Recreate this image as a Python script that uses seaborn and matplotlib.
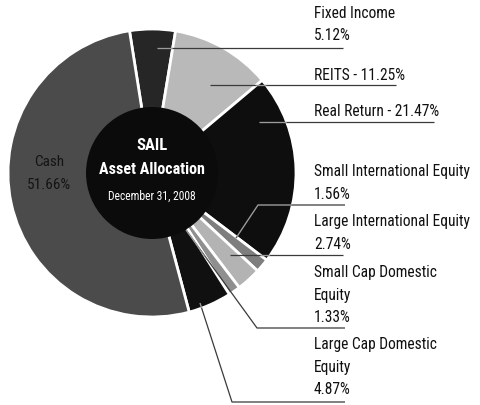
import matplotlib
matplotlib.use("Agg")
import matplotlib.pyplot as plt
from matplotlib import font_manager
import seaborn as sns

# Portfolio weights, clockwise from the top of the ring
categories = ["Fixed Income", "REITS", "Real Return", "Small International Equity",
              "Large International Equity", "Small Cap Domestic Equity",
              "Large Cap Domestic Equity", "Cash"]
weights = [5.12, 11.25, 21.47, 1.56, 2.74, 1.33, 4.87, 51.66]
shades = ["#262626", "#b9b9b9", "#0e0e0e", "#7e7e7e",
          "#b3b3b3", "#8f8f8f", "#101010", "#4b4b4b"]

# Callout wording (name lines; value either inline or on its own line)
callout_names = [["Fixed Income"], ["REITS"], ["Real Return"],
                 ["Small International Equity"], ["Large International Equity"],
                 ["Small Cap Domestic", "Equity"], ["Large Cap Domestic", "Equity"]]
callout_inline = [False, True, True, False, False, False, False]

hub_title = ["SAIL", "Asset Allocation"]
hub_date = "December 31, 2008"

sns.set_theme(style="white")

available = {f.name for f in font_manager.fontManager.ttflist}
narrow = next((n for n in ["Liberation Sans Narrow", "Roboto Condensed",
                           "Open Sans Condensed", "DejaVu Sans Condensed"]
               if n in available), "DejaVu Sans")
plt.rcParams["font.family"] = [narrow, "DejaVu Sans"]

W, H = 480, 406
fig = plt.figure(figsize=(W / 100, H / 100), dpi=100)
ax = fig.add_axes([0, 0, 1, 1])


def Y(y):
    """Convert a top-down pixel row to the axes' bottom-up units."""
    return H - y


cx, cy, R, r_hub = 152, 174, 144, 66

wedges, _ = ax.pie(weights, colors=shades, startangle=99, counterclock=False,
                   center=(cx, Y(cy)), radius=R,
                   wedgeprops=dict(edgecolor="white", linewidth=2.0))
# dark hub in the middle of the ring
ax.pie([1], colors=["#0b0b0b"], center=(cx, Y(cy)), radius=r_hub,
       wedgeprops=dict(linewidth=0))

ax.set_xlim(0, W)
ax.set_ylim(0, H)
ax.set_aspect("equal")
ax.axis("off")

# hub text
ax.text(cx, Y(145), hub_title[0], color="white", fontsize=12, fontweight="bold",
        ha="center", va="center", fontstretch="condensed")
ax.text(cx, Y(170), hub_title[1], color="white", fontsize=11.5, fontweight="bold",
        ha="center", va="center", fontstretch="condensed")
ax.text(cx, Y(196), hub_date, color="white", fontsize=8.4,
        ha="center", va="center", fontstretch="condensed")

# Cash label sits inside its own slice
ax.text(49, Y(162), categories[-1], color="#141414", fontsize=11,
        ha="center", va="center", fontstretch="condensed")
ax.text(49, Y(185), f"{weights[-1]:.2f}%", color="#141414", fontsize=11,
        ha="center", va="center", fontstretch="condensed")

# callout layout: first text row, underline row, underline end, leader path
text_x = 314
line_gap = 22.5
first_row = [13, 75, 112, 172, 222, 273, 345]
rule_end = [343, 396, 434, 345, 343, 345, 345]
leader_paths = [
    [(157, 49), (None, 49)],
    [(210, 86), (None, 86)],
    [(259, 123), (None, 123)],
    [(236, 239), (258, 206), (None, 206)],
    [(230, 256), (None, 256)],
    [(186, 231), (257, 329), (None, 329)],
    [(200, 304), (232, 403), (None, 403)],
]
dark_slices = [0, 2, 6]

for i, names in enumerate(callout_names):
    value = f"{weights[i]:.2f}%"
    if callout_inline[i]:
        rows = [f"{names[0]} - {value}"]
    else:
        rows = names + [value]
    for k, row in enumerate(rows):
        ax.text(text_x, Y(first_row[i] + k * line_gap), row, color="#111111",
                fontsize=11.2, ha="left", va="center", fontstretch="condensed")

    pts = [(x if x is not None else rule_end[i], y) for x, y in leader_paths[i]]
    xs = [p[0] for p in pts]
    ys = [Y(p[1]) for p in pts]
    ax.plot(xs, ys, color="#3a3a3a", lw=0.9, zorder=5, solid_capstyle="butt")
    # the leader reads as a light stroke where it runs over a dark slice
    for d in dark_slices:
        ln, = ax.plot(xs, ys, color="#9c9c9c", lw=0.9, zorder=6,
                      solid_capstyle="butt")
        ln.set_clip_path(wedges[d])

fig.savefig("out.png", dpi=100)
